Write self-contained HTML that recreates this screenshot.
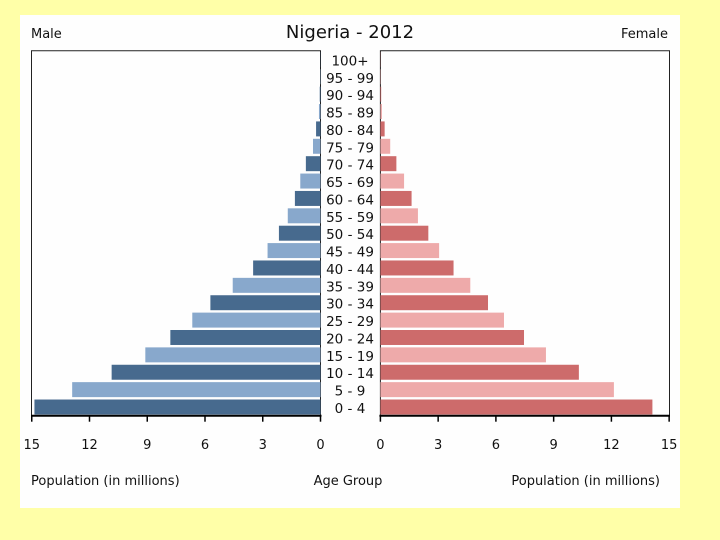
<!DOCTYPE html>
<html><head><meta charset="utf-8"><style>
body{margin:0;background:#ffffa8;width:720px;height:540px;overflow:hidden;font-family:"DejaVu Sans","Liberation Sans",sans-serif}
svg{position:absolute;left:0;top:0}
</style></head><body>
<svg width="720" height="540" font-family="DejaVu Sans, Liberation Sans, sans-serif">
<rect x="20" y="15" width="660" height="493" fill="#fefefe"/>
<g id="g"></g>
</svg>
<script>
const ages=["0 - 4","5 - 9","10 - 14","15 - 19","20 - 24","25 - 29","30 - 34","35 - 39","40 - 44","45 - 49","50 - 54","55 - 59","60 - 64","65 - 69","70 - 74","75 - 79","80 - 84","85 - 89","90 - 94","95 - 99","100+"];
const male=[14.86,12.9,10.85,9.1,7.8,6.66,5.72,4.56,3.5,2.75,2.16,1.7,1.33,1.05,0.76,0.39,0.23,0.08,0.04,0.02,0.01];
const female=[14.13,12.13,10.31,8.6,7.46,6.42,5.59,4.67,3.8,3.05,2.49,1.95,1.62,1.23,0.83,0.51,0.22,0.08,0.04,0.02,0.01];
const ticks=[0,3,6,9,12,15];
const NS="http://www.w3.org/2000/svg",g=document.getElementById('g');
function mk(t,a,txt){const e=document.createElementNS(NS,t);for(const k in a)e.setAttribute(k,a[k]);if(txt!=null)e.textContent=txt;g.appendChild(e);return e;}
const L0=320.5,R0=380.4,S=19.25,TOP=50.7,BOT=415.7,P=(BOT-TOP)/ages.length;
const xl=v=>L0-v*S, xr=v=>R0+v*S, yb=i=>BOT-(i+1)*P;
mk('path',{d:`M31.5 ${BOT} V${TOP} H${L0} V${BOT}`,fill:'none',stroke:'#222','stroke-width':1});
mk('path',{d:`M${R0} ${BOT} V${TOP} H${669.5} V${BOT}`,fill:'none',stroke:'#222','stroke-width':1});
ages.forEach((a,i)=>{
  const y=yb(i)+1.2,h=P-2.4;
  let r=mk('rect',{x:xl(male[i]),y:y,width:male[i]*S,height:h,fill:i%2?'#88a8cc':'#476a8e'});
  
  
  r=mk('rect',{x:R0,y:y,width:female[i]*S,height:h,fill:i%2?'#eeaaaa':'#cd6b6b'});
  
  
  const t=mk('text',{x:350,y:y+h/2+6,'text-anchor':'middle','font-size':13.5,fill:'#111'},a);
  
  
});
mk('line',{x1:31,x2:L0+1,y1:BOT,y2:BOT,stroke:'#000','stroke-width':2});
mk('line',{x1:R0-1,x2:670,y1:BOT,y2:BOT,stroke:'#000','stroke-width':2});
ticks.forEach(v=>{
  [xl(v),xr(v)].forEach(x=>{
    mk('line',{x1:x,x2:x,y1:BOT,y2:BOT+6,stroke:'#000','stroke-width':1.5});
    const t=mk('text',{x:x,y:449,'text-anchor':'middle','font-size':13,fill:'#111'},String(v));
    
    
  });
});
const labels=[[350,38,'middle',18,'Nigeria - 2012','chart-title'],[31,38,'start',13,'Male','male-label'],[668,38,'end',13,'Female','female-label'],
[31,485,'start',13,'Population (in millions)','male-x-axis-title'],[348,485,'middle',13,'Age Group','age-axis-title'],[660,485,'end',13,'Population (in millions)','female-x-axis-title']];
labels.forEach(l=>{
  const t=mk('text',{x:l[0],y:l[1],'text-anchor':l[2],'font-size':l[3],fill:'#111'},l[4]);
  
  
});
</script>
</body></html>
